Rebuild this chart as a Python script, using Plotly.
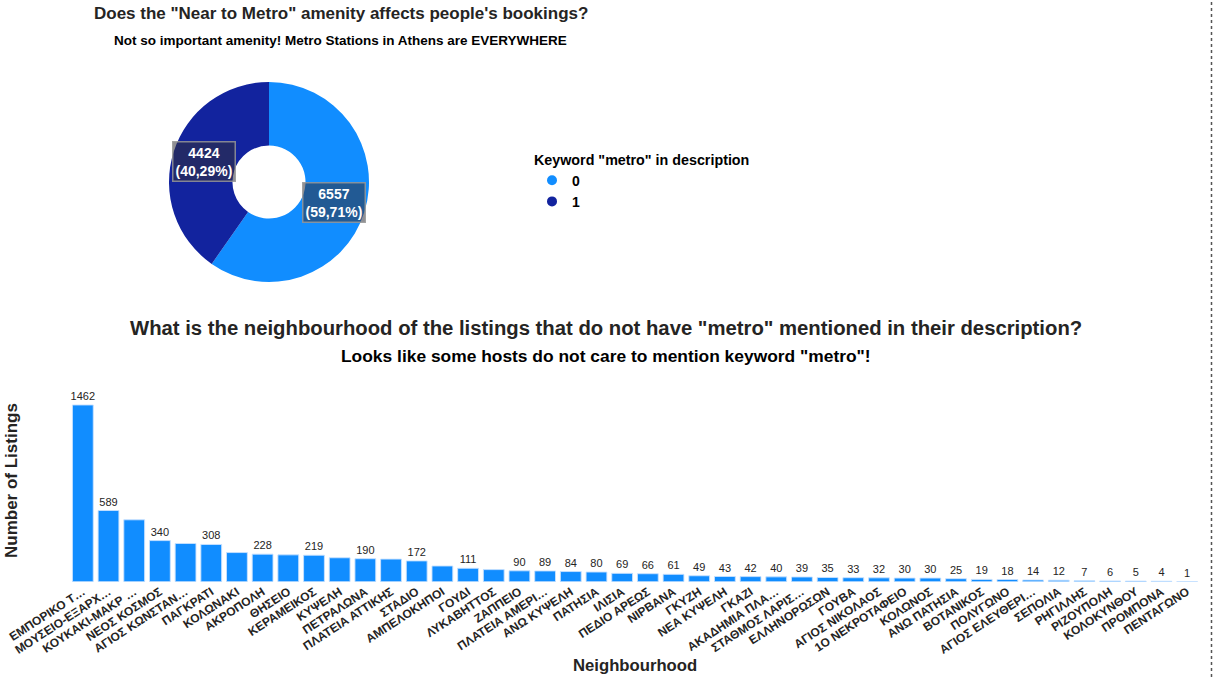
import math
import plotly.graph_objects as go

W, H = 1213, 677

# ---------------- data ----------------
metro_keys = ["0", "1"]
metro_counts = [6557, 4424]
metro_colors = ["#118DFF", "#12239E"]

neighbourhoods = [
    "ΕΜΠΟΡΙΚΟ Τ…", "ΜΟΥΣΕΙΟ-ΕΞΑΡΧ…", "ΚΟΥΚΑΚΙ-ΜΑΚΡ …", "ΝΕΟΣ ΚΟΣΜΟΣ",
    "ΑΓΙΟΣ ΚΩΝΣΤΑΝ…", "ΠΑΓΚΡΑΤΙ", "ΚΟΛΩΝΑΚΙ", "ΑΚΡΟΠΟΛΗ", "ΘΗΣΕΙΟ",
    "ΚΕΡΑΜΕΙΚΟΣ", "ΚΥΨΕΛΗ", "ΠΕΤΡΑΛΩΝΑ", "ΠΛΑΤΕΙΑ ΑΤΤΙΚΗΣ", "ΣΤΑΔΙΟ",
    "ΑΜΠΕΛΟΚΗΠΟΙ", "ΓΟΥΔΙ", "ΛΥΚΑΒΗΤΤΟΣ", "ΖΑΠΠΕΙΟ", "ΠΛΑΤΕΙΑ ΑΜΕΡΙ…",
    "ΑΝΩ ΚΥΨΕΛΗ", "ΠΑΤΗΣΙΑ", "ΙΛΙΣΙΑ", "ΠΕΔΙΟ ΑΡΕΩΣ", "ΝΙΡΒΑΝΑ", "ΓΚΥΖΗ",
    "ΝΕΑ ΚΥΨΕΛΗ", "ΓΚΑΖΙ", "ΑΚΑΔΗΜΙΑ ΠΛΑ…", "ΣΤΑΘΜΟΣ ΛΑΡΙΣ…",
    "ΕΛΛΗΝΟΡΩΣΩΝ", "ΓΟΥΒΑ", "ΑΓΙΟΣ ΝΙΚΟΛΑΟΣ", "1Ο ΝΕΚΡΟΤΑΦΕΙΟ", "ΚΟΛΩΝΟΣ",
    "ΑΝΩ ΠΑΤΗΣΙΑ", "ΒΟΤΑΝΙΚΟΣ", "ΠΟΛΥΓΩΝΟ", "ΑΓΙΟΣ ΕΛΕΥΘΕΡΙ…", "ΣΕΠΟΛΙΑ",
    "ΡΗΓΙΛΛΗΣ", "ΡΙΖΟΥΠΟΛΗ", "ΚΟΛΟΚΥΝΘΟΥ", "ΠΡΟΜΠΟΝΑ", "ΠΕΝΤΑΓΩΝΟ",
]
listings = [
    1462, 589, 512, 340, 316, 308, 241, 228, 222, 219, 198, 190, 187, 172,
    130, 111, 100, 90, 89, 84, 80, 69, 66, 61, 49, 43, 42, 40, 39, 35, 33,
    32, 30, 30, 25, 19, 18, 14, 12, 7, 6, 5, 4, 1,
]
# data labels that are visible in the original (others hidden by overlap)
label_visible = [
    1, 1, 0, 1, 0, 1, 0, 1, 0, 1, 0, 1, 0, 1, 0, 1, 0, 1, 1, 1, 1, 1, 1, 1,
    1, 1, 1, 1, 1, 1, 1, 1, 1, 1, 1, 1, 1, 1, 1, 1, 1, 1, 1, 1,
]

FONT = "Liberation Sans, Arial, sans-serif"
DARK = "#252423"

fig = go.Figure()

# ---------------- bars ----------------
bar_text = [str(v) if s else "" for v, s in zip(listings, label_visible)]
fig.add_trace(go.Bar(
    x=neighbourhoods, y=listings,
    marker=dict(color="#118DFF", line=dict(color="rgba(200,225,255,0.9)", width=1)),
    text=bar_text, textposition="outside", cliponaxis=False, constraintext="none",
    textfont=dict(family=FONT, size=11, color=DARK),
    showlegend=False, hoverinfo="x+y",
))

# ---------------- donut ----------------
pie_cx, pie_cy, pie_r = 269, 182, 100
hole = 0.365
fig.add_trace(go.Pie(
    labels=metro_keys, values=metro_counts, sort=False, direction="clockwise",
    rotation=0, hole=hole, marker=dict(colors=metro_colors),
    textinfo="none", hoverinfo="label+value+percent", showlegend=False,
    domain=dict(x=[(pie_cx - pie_r) / W, (pie_cx + pie_r) / W],
                y=[1 - (pie_cy + pie_r) / H, 1 - (pie_cy - pie_r) / H]),
))

total = sum(metro_counts)
start = 0.0
ring_r = pie_r * (1 + hole) / 2
annotations = []
for v in metro_counts:
    frac = v / total
    mid = (start + frac / 2) * 2 * math.pi
    start += frac
    px = pie_cx + ring_r * math.sin(mid)
    py = pie_cy - ring_r * math.cos(mid)
    pct = f"{frac * 100:.2f}".replace(".", ",")
    annotations.append(dict(
        x=px / W, y=1 - py / H, xref="paper", yref="paper", showarrow=False,
        xanchor="center", yanchor="middle",
        text=f"<b>{v}<br>({pct}%)</b>", align="center",
        font=dict(family=FONT, size=14, color="white"),
        bgcolor="rgba(50,50,60,0.55)", bordercolor="rgba(150,150,150,0.85)",
        borderwidth=1.5, borderpad=2,
    ))

# legend entries (circle markers)
for k, c in zip(metro_keys, metro_colors):
    fig.add_trace(go.Scatter(
        x=[None], y=[None], mode="markers", name=f"<b>{k}</b>",
        marker=dict(color=c, size=10, symbol="circle"),
        showlegend=True, hoverinfo="skip",
    ))

x0, x1 = 70, 1200
yb, yt = 581.7, 388.3

fig.update_layout(
    width=W, height=H, margin=dict(l=0, r=0, t=0, b=0),
    paper_bgcolor="white", plot_bgcolor="white",
    font=dict(family=FONT, color=DARK),
    xaxis=dict(type="category", domain=[x0 / W, x1 / W], tickangle=-33,
               automargin=False,
               tickfont=dict(family=FONT, size=12, color=DARK),
               showgrid=False, showline=False, zeroline=False, ticks="",
               tickprefix="<b>", ticksuffix="</b>"),
    yaxis=dict(domain=[1 - yb / H, 1 - yt / H], range=[0, 1600],
               visible=False, automargin=False),
    legend=dict(
        x=532 / W, y=1 - 146 / H, xanchor="left", yanchor="top",
        title=dict(text='<b>Keyword "metro" in description</b>',
                   font=dict(family=FONT, size=14.3, color="black")),
        font=dict(family=FONT, size=14, color="black"),
        itemwidth=30, tracegroupgap=0, bgcolor="rgba(0,0,0,0)",
    ),
    bargap=0.19,
)

titles = [
    ('<b>Does the "Near to Metro" amenity affects people\'s bookings?</b>', 341, 13, 17, DARK),
    ("<b>Not so important amenity! Metro Stations in Athens are EVERYWHERE</b>", 340, 40, 13.5, "black"),
    ('<b>What is the neighbourhood of the listings that do not have "metro" mentioned in their description?</b>', 606, 328, 20.3, DARK),
    ('<b>Looks like some hosts do not care to mention keyword "metro"!</b>', 606, 356, 17.4, "black"),
]
for t, tx, ty, sz, col in titles:
    annotations.append(dict(x=tx / W, y=1 - ty / H, xref="paper", yref="paper",
                            text=t, showarrow=False, xanchor="center", yanchor="middle",
                            font=dict(family=FONT, size=sz, color=col)))

annotations.append(dict(x=12 / W, y=1 - 481 / H, xref="paper", yref="paper",
                        xanchor="center", yanchor="middle",
                        text="<b>Number of Listings</b>", textangle=-90, showarrow=False,
                        font=dict(family=FONT, size=17, color=DARK)))
annotations.append(dict(x=635 / W, y=1 - 665 / H, xref="paper", yref="paper",
                        xanchor="center", yanchor="middle",
                        text="<b>Neighbourhood</b>", showarrow=False,
                        font=dict(family=FONT, size=16.7, color=DARK)))

fig.update_layout(annotations=annotations)
fig.add_shape(type="line", xref="paper", yref="paper", x0=1211.5 / W, x1=1211.5 / W,
              y0=0, y1=1, line=dict(color="#555555", width=1.5, dash="dot"))

fig.write_html("out.html", config={"displayModeBar": False},
               post_script="document.body.style.margin='0px';")
